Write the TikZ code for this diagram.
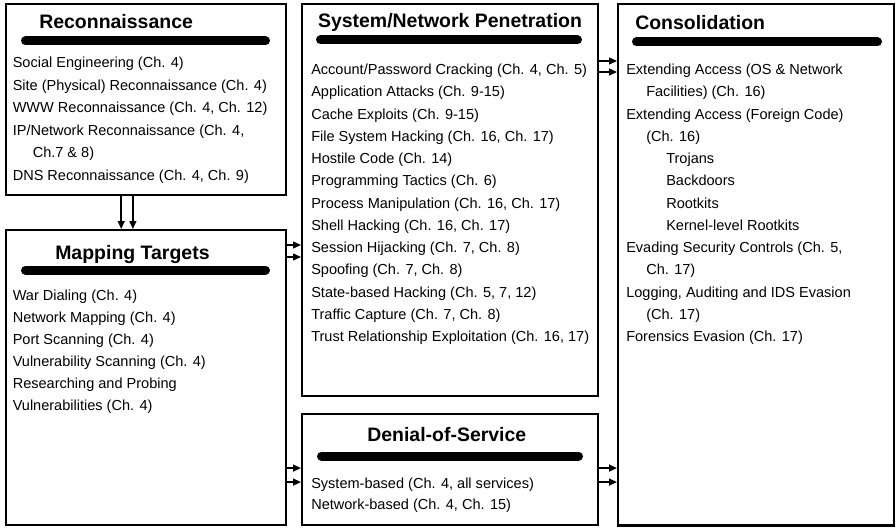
\documentclass[tikz,border=0pt]{standalone}
\usepackage{fontspec}
\setmainfont{Liberation Sans}
\usetikzlibrary{arrows.meta}
\begin{document}
\begin{tikzpicture}[x=0.75pt,y=-0.75pt,
  box/.style={draw, line width=1.8pt, inner sep=0pt, anchor=north west},
  ttl/.style={font=\fontsize{14.6}{16}\selectfont\bfseries, inner sep=0pt, anchor=base west},
  item/.style={font=\fontsize{10.9}{13}\selectfont, inner sep=0pt, anchor=base west},
  bar/.style={line width=6.75pt, line cap=round},
  arr/.style={line width=1.1pt, -{Triangle[length=6pt,width=5.2pt]}}]
\useasboundingbox (0,0) rectangle (896,528);
% boxes
\node[box, minimum width=210pt, minimum height=143pt] (recon) at (5,3) {};
\node[box, minimum width=210pt, minimum height=221pt] (map) at (5,229) {};
\node[box, minimum width=222pt, minimum height=294pt] (pen) at (301,3) {};
\node[box, minimum width=222pt, minimum height=83pt] (dos) at (301,413) {};
\node[box, minimum width=207pt, minimum height=391pt] (cons) at (617,3) {};
% titles
\node[ttl] (trecon) at (39,28.5) {Reconnaissance};
\node[ttl] (tmap) at (55,259) {Mapping Targets};
\node[ttl, anchor=base] (tpen) at (450,27.5) {System/Network Penetration};
\node[ttl] (tcons) at (635,29.5) {Consolidation};
\node[ttl] (tdos) at (367,441.5) {Denial-of-Service};
% bars
\draw[bar] (25.5,41) -- (265.5,41);
\draw[bar] (25.5,270) -- (265.5,270);
\draw[bar] (320.5,40) -- (577.5,40);
\draw[bar] (636.5,42) -- (877.5,42);
\draw[bar] (321.5,456) -- (578.5,456);
% items
\foreach \t [count=\i] in {{Social Engineering (Ch. 4)},{Site (Physical) Reconnaissance (Ch. 4)},{WWW Reconnaissance (Ch. 4, Ch. 12)},{IP/Network Reconnaissance (Ch. 4,},{\hspace*{15pt}Ch.7 \& 8)},{DNS Reconnaissance (Ch. 4, Ch. 9)}}
  \node[item] (r\i) at (12.5,{68+(\i-1)*22.4}) {\t};
\foreach \t [count=\i] in {{War Dialing (Ch. 4)},{Network Mapping (Ch. 4)},{Port Scanning (Ch. 4)},{Vulnerability Scanning (Ch. 4)},{Researching and Probing},{Vulnerabilities (Ch. 4)}}
  \node[item] (m\i) at (12.5,{300+(\i-1)*22.1}) {\t};
\foreach \t [count=\i] in {{Account/Password Cracking (Ch. 4, Ch. 5)},{Application Attacks (Ch. 9-15)},{Cache Exploits (Ch. 9-15)},{File System Hacking (Ch. 16, Ch. 17)},{Hostile Code (Ch. 14)},{Programming Tactics (Ch. 6)},{Process Manipulation (Ch. 16, Ch. 17)},{Shell Hacking (Ch. 16, Ch. 17)},{Session Hijacking (Ch. 7, Ch. 8)},{Spoofing (Ch. 7, Ch. 8)},{State-based Hacking (Ch. 5, 7, 12)},{Traffic Capture (Ch. 7, Ch. 8)},{Trust Relationship Exploitation (Ch. 16, 17)}}
  \node[item] (p\i) at (311,{74.5+(\i-1)*22.25}) {\t};
\foreach \t [count=\i] in {{Extending Access (OS \& Network},{\hspace*{15pt}Facilities) (Ch. 16)},{Extending Access (Foreign Code)},{\hspace*{15pt}(Ch. 16)},{\hspace*{30pt}Trojans},{\hspace*{30pt}Backdoors},{\hspace*{30pt}Rootkits},{\hspace*{30pt}Kernel-level Rootkits},{Evading Security Controls (Ch. 5,},{\hspace*{15pt}Ch. 17)},{Logging, Auditing and IDS Evasion},{\hspace*{15pt}(Ch. 17)},{Forensics Evasion (Ch. 17)}}
  \node[item] (c\i) at (626,{74.5+(\i-1)*22.25}) {\t};
\node[item] (d1) at (311,488.5) {System-based (Ch. 4, all services)};
\node[item] (d2) at (311,509.5) {Network-based (Ch. 4, Ch. 15)};
% arrows
\draw[arr] ([xshift=-18.75pt]recon.south) -- ([xshift=-18.75pt]map.north);
\draw[arr] ([xshift=-10pt]recon.south) -- ([xshift=-10pt]map.north);
\draw[arr] ([yshift=-12pt]map.north east) -- ([yshift=-12pt]map.north east -| pen.west);
\draw[arr] ([yshift=-21pt]map.north east) -- ([yshift=-21pt]map.north east -| pen.west);
\draw[arr] ([yshift=-43.5pt]pen.north east) -- ([yshift=-43.5pt]pen.north east -| cons.west);
\draw[arr] ([yshift=-51.75pt]pen.north east) -- ([yshift=-51.75pt]pen.north east -| cons.west);
\draw[arr] ([yshift=43.5pt]map.south east) -- ([yshift=43.5pt]map.south east -| dos.west);
\draw[arr] ([yshift=33pt]map.south east) -- ([yshift=33pt]map.south east -| dos.west);
\draw[arr] ([yshift=43.5pt]dos.south east) -- ([yshift=43.5pt]dos.south east -| cons.west);
\draw[arr] ([yshift=33pt]dos.south east) -- ([yshift=33pt]dos.south east -| cons.west);
\end{tikzpicture}
\end{document}
